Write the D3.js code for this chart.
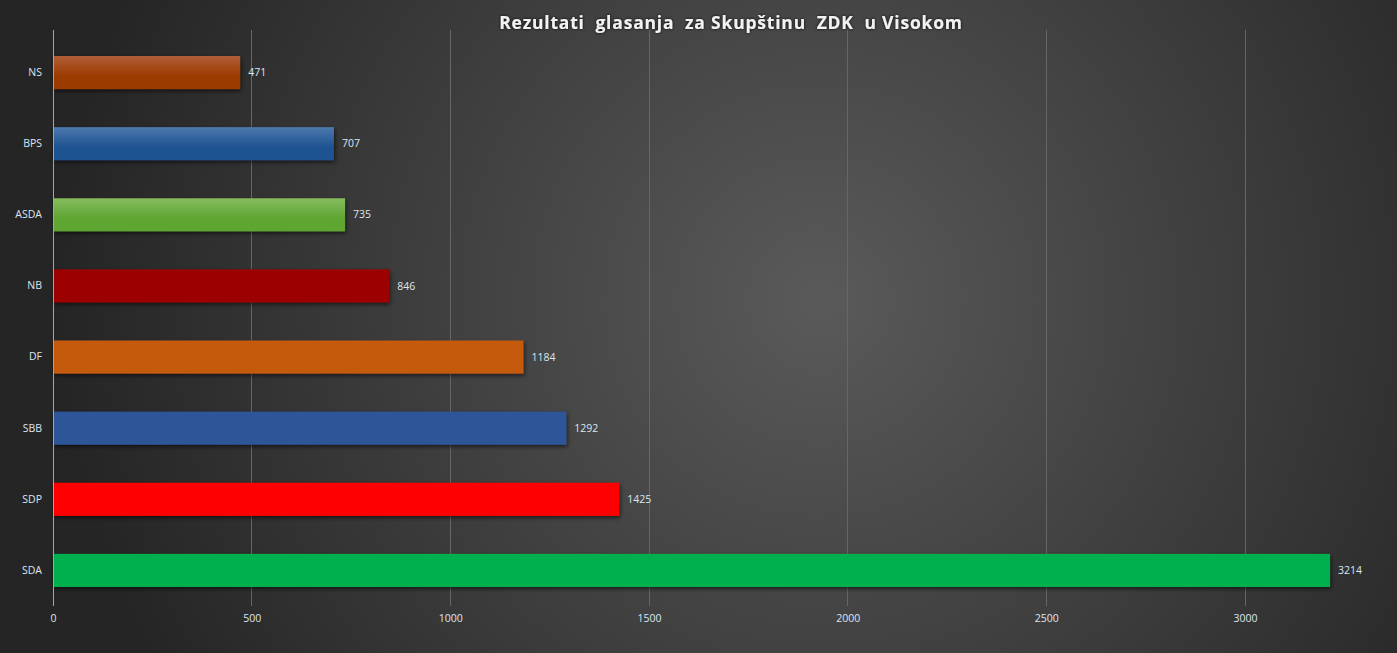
<!DOCTYPE html>
<html><head><meta charset="utf-8">
<script src="https://cdn.jsdelivr.net/npm/d3@7"></script>
<style>html,body{margin:0;padding:0;background:#2a2a2a;overflow:hidden}</style>
</head><body>
<svg id="c" width="1397" height="653"></svg>
<script>
const categories = ["NS","BPS","ASDA","NB","DF","SBB","SDP","SDA"];
const values = [471,707,735,846,1184,1292,1425,3214];
const colorsTop = ["#b25e3a","#4b79ad","#86bc5e","#9c0000","#c55a11","#2f5597","#ff0000","#00b050"];
const colorsBot = ["#9c3b00","#1f5390","#5fa533","#9c0000","#c55a11","#2f5597","#ff0000","#00b050"];
const xTicks = [0,500,1000,1500,2000,2500,3000];
const title = "Rezultati  glasanja  za Skupštinu  ZDK  u Visokom";

const svg = d3.select("#c");
const W = 1397, H = 653;
const defs = svg.append("defs");
const bg = defs.append("radialGradient").attr("id","bg").attr("gradientUnits","userSpaceOnUse")
  .attr("cx",820).attr("cy",300).attr("r",760);
bg.append("stop").attr("offset","0").attr("stop-color","#5a5a5a");
bg.append("stop").attr("offset","1").attr("stop-color","#252525");
svg.append("rect").attr("width",W).attr("height",H).attr("fill","url(#bg)");

const sh = defs.append("filter").attr("id","sh").attr("x","-5%").attr("y","-30%").attr("width","110%").attr("height","180%");
sh.append("feDropShadow").attr("dx",1).attr("dy",2).attr("stdDeviation",2).attr("flood-color","#000").attr("flood-opacity",0.6);
const tsh = defs.append("filter").attr("id","tsh");
tsh.append("feDropShadow").attr("dx",0).attr("dy",0).attr("stdDeviation",1.5).attr("flood-color","#000").attr("flood-opacity",0.9);

categories.forEach((c,i)=>{
  const g = defs.append("linearGradient").attr("id","g"+i).attr("x1",0).attr("y1",0).attr("x2",0).attr("y2",1);
  g.append("stop").attr("offset","0").attr("stop-color",colorsTop[i]);
  g.append("stop").attr("offset","0.6").attr("stop-color",colorsBot[i]);
  g.append("stop").attr("offset","1").attr("stop-color",colorsBot[i]);
});

const x = d3.scaleLinear().domain([0,3000]).range([53,1245]);
const y = d3.scaleBand().domain(categories).range([37,606]).paddingInner(0.535).paddingOuter(0.2675);

const font = "'Open Sans', sans-serif";
// gridlines
svg.append("g").selectAll("line").data(xTicks.slice(1)).join("line")
  .attr("x1",d=>x(d)).attr("x2",d=>x(d)).attr("y1",30).attr("y2",606)
  .attr("stroke","#666").attr("stroke-width",1).attr("shape-rendering","crispEdges");

// x axis
const xa = svg.append("g").attr("transform","translate(0,606)")
  .call(d3.axisBottom(x).tickValues(xTicks).tickFormat(d3.format("d")).tickSize(0).tickPadding(9));
xa.select(".domain").remove();
xa.selectAll("text").attr("fill","#dce6f2").attr("font-family",font).attr("font-size",10.5);

// bars
svg.append("g").selectAll("rect").data(values).join("rect")
  .attr("x",x(0)).attr("y",(d,i)=>y(categories[i]))
  .attr("width",d=>x(d)-x(0)).attr("height",y.bandwidth())
  .attr("fill",(d,i)=>"url(#g"+i+")").attr("filter","url(#sh)");

// y axis line
svg.append("line").attr("x1",x(0)+0.5).attr("x2",x(0)+0.5).attr("y1",30).attr("y2",606)
  .attr("stroke","#a6a6a6").attr("stroke-width",1);
const ya = svg.append("g").attr("transform",`translate(${x(0)},0)`)
  .call(d3.axisLeft(y).tickSize(0).tickPadding(11));
ya.select(".domain").remove();
ya.selectAll("text").attr("fill","#dce6f2").attr("font-family",font).attr("font-size",10.5);

// value labels
svg.append("g").selectAll("text").data(values).join("text")
  .attr("x",d=>x(d)+8).attr("y",(d,i)=>y(categories[i])+y.bandwidth()/2)
  .attr("dy","0.35em").attr("fill","#dce6f2").attr("font-family",font).attr("font-size",10.5)
  .text(d=>d);

// title
svg.append("text").attr("x",731).attr("y",29).attr("text-anchor","middle")
  .attr("fill","#f2f2f2").attr("font-family",font).attr("font-weight","bold").attr("font-size",17.5)
  .attr("letter-spacing",0.8).attr("filter","url(#tsh)").style("white-space","pre").text(title);
</script>
</body></html>
